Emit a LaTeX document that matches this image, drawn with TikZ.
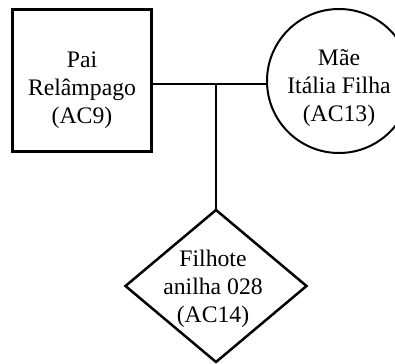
\documentclass[tikz,border=0pt]{standalone}
\usepackage{fontspec}
\setmainfont{Liberation Serif}
\usetikzlibrary{shapes.geometric}
\begin{document}
\begin{tikzpicture}[x=1pt,y=-1pt,
  lbl/.style={align=center,inner sep=0pt,font=\fontsize{23.7}{28}\selectfont},
  shp/.style={draw,inner sep=0pt,outer sep=0pt},
  link/.style={line width=2pt}]
\useasboundingbox (0,0) rectangle (395,363);
\node[shp,rectangle,line width=3pt,minimum width=139pt,minimum height=142pt] (pai) at (81.5,81) {};
\node[shp,circle,line width=2pt,minimum size=144pt] (mae) at (339,81) {};
\node[shp,diamond,line width=2.5pt,minimum width=181pt,minimum height=152pt] (fil) at (216,286) {};
\node[lbl] (paiT) at (82,90.3) {Pai\\Relâmpago\\(AC9)};
\node[lbl] (maeT) at (339,88) {Mãe\\Itália Filha\\(AC13)};
\node[lbl] (filT) at (213,289) {Filhote\\anilha 028\\(AC14)};
\coordinate (j) at (216,84.5);
\draw[link] (j -| pai.east) -- (j -| mae.west);
\draw[link] (j) -- (fil.north);
\end{tikzpicture}
\end{document}
